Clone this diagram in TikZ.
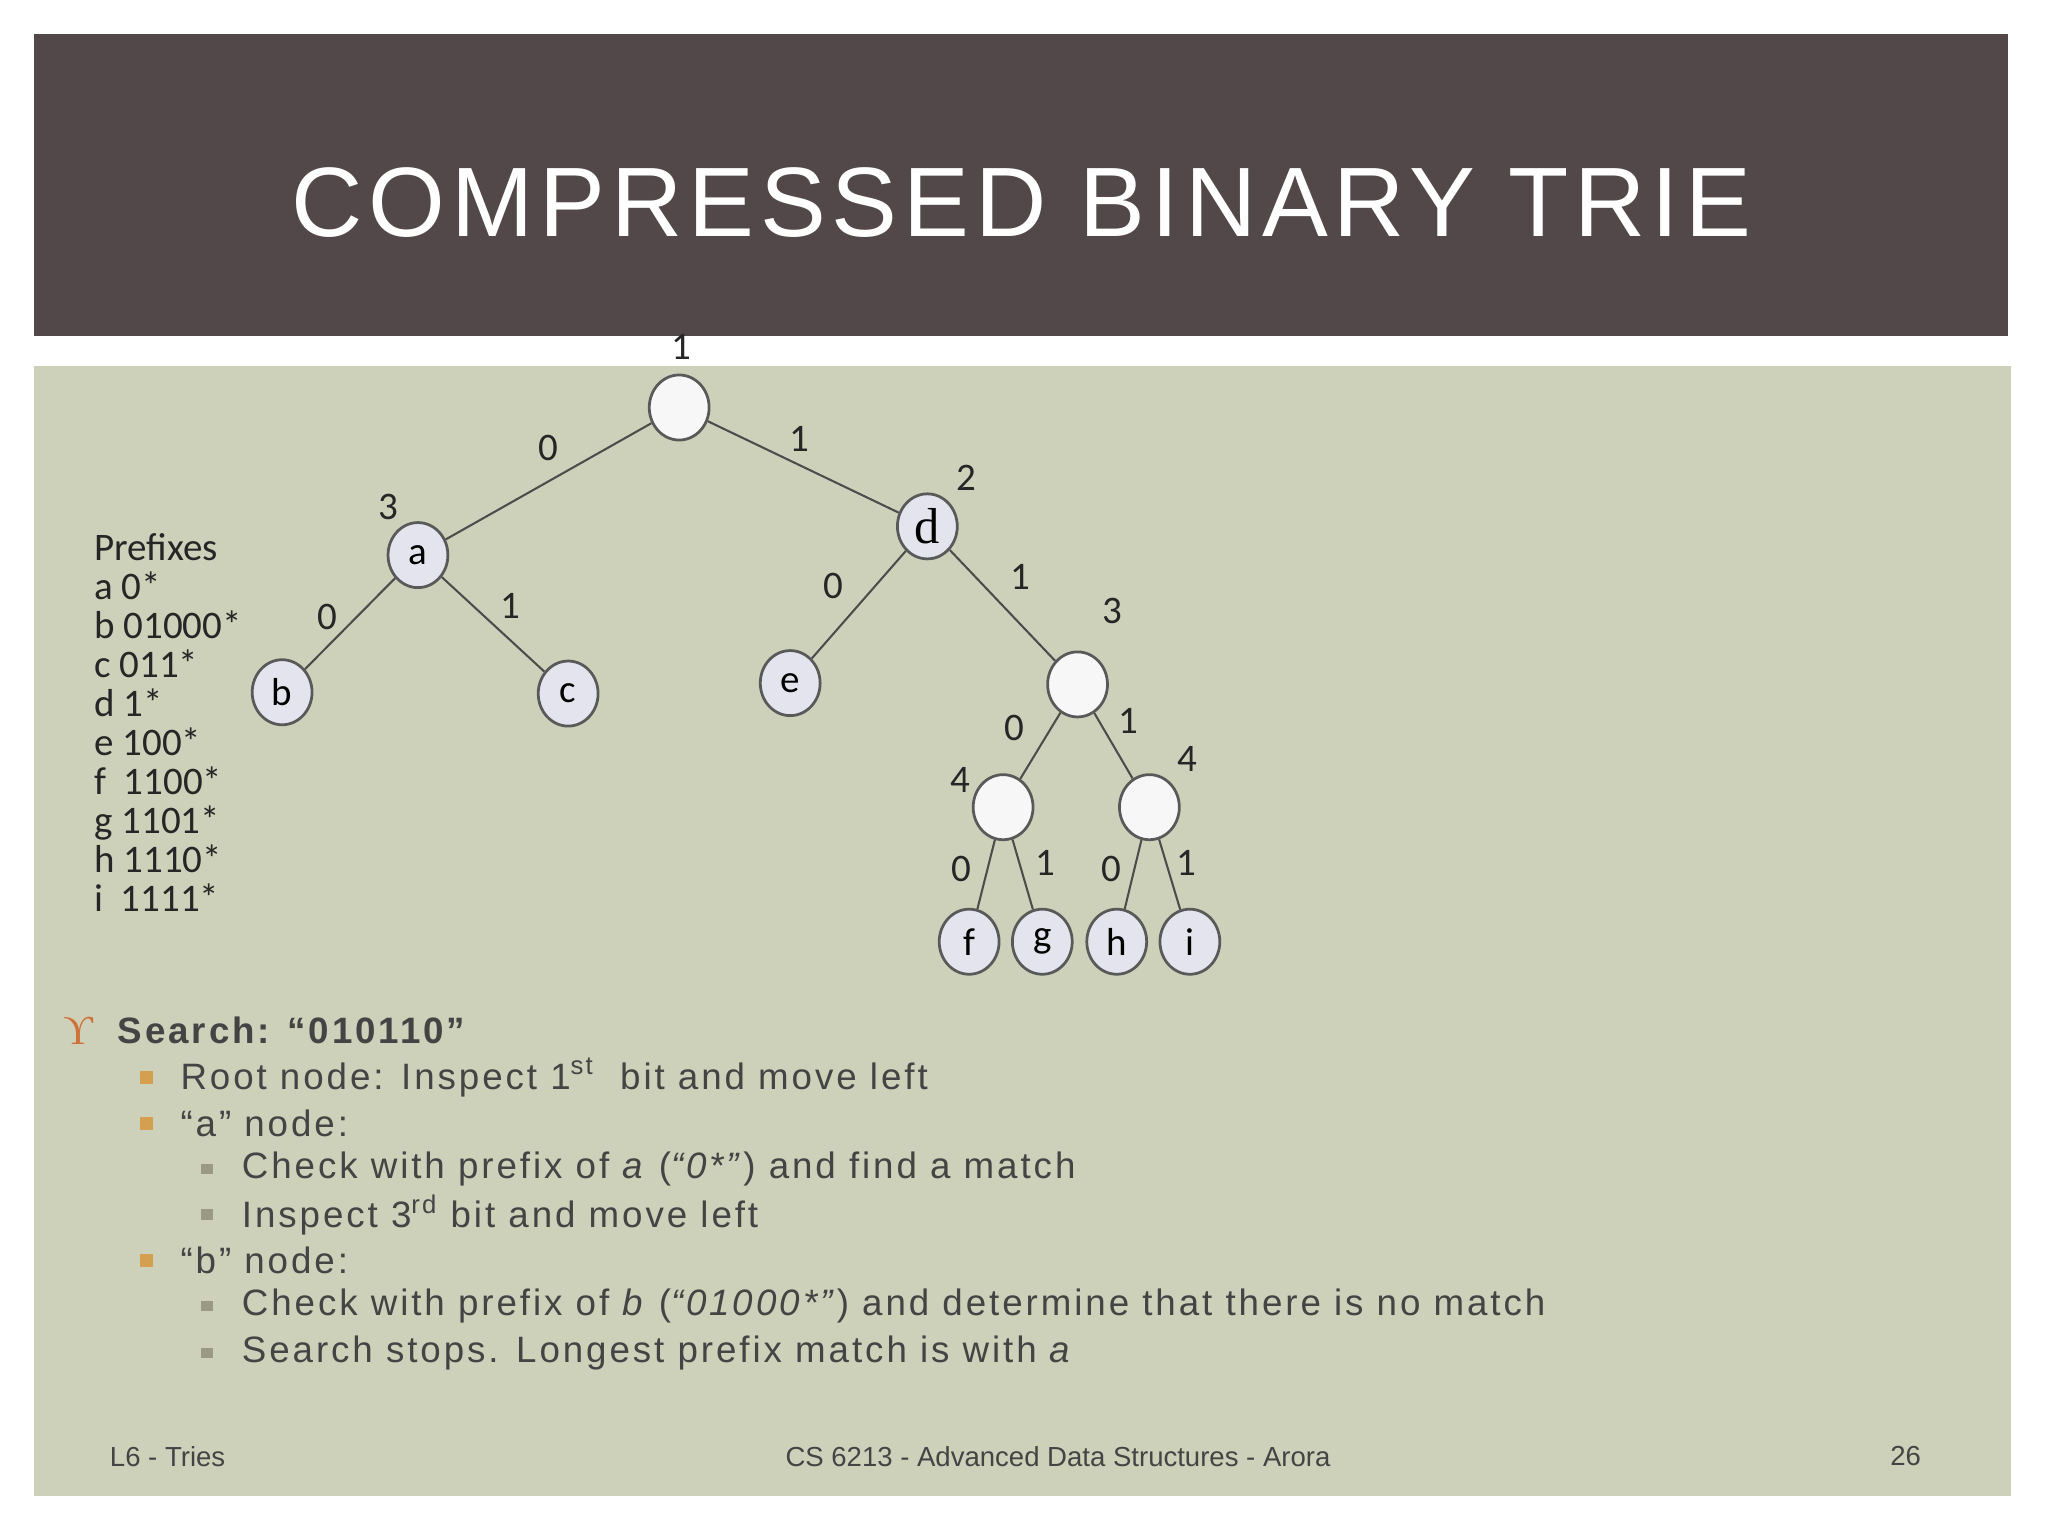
\documentclass[tikz,border=0pt]{standalone}
\usetikzlibrary{shapes.geometric}
\usepackage{fontspec}
\setmainfont{Liberation Sans}
\newfontfamily\titlefont[LetterSpace=6]{Liberation Sans}
\newfontfamily\bodyfont[LetterSpace=8]{Liberation Sans}
\newfontfamily\calfont{Carlito}
\newfontfamily\serfont{Liberation Serif}
\definecolor{hdr}{HTML}{524849}
\definecolor{bodybg}{HTML}{CED1B9}
\definecolor{txt}{HTML}{444444}
\definecolor{leaf}{HTML}{E4E4EE}
\definecolor{inner}{HTML}{F7F7F7}
\definecolor{orng}{HTML}{D0703A}
\definecolor{gold}{HTML}{D4A050}
\definecolor{grsq}{HTML}{9A9A82}
\newlength{\pxu}\setlength{\pxu}{0.567pt}
\tikzset{
 leafn/.style={ellipse,draw=black!65,line width=1.2pt,fill=leaf,minimum width=46\pxu,minimum height=50\pxu,inner sep=0pt,font=\calfont\fontsize{17}{20}\selectfont},
 innern/.style={leafn,fill=inner},
 edge/.style={draw=black!70,line width=0.9pt},
 lbl/.style={font=\calfont\fontsize{17}{20}\selectfont,text=black!85},
 btxt/.style={anchor=west,text=txt,font=\bodyfont\fontsize{16}{19}\selectfont},
 foot/.style={text=txt,font=\fontsize{12}{14}\selectfont}
}
\begin{document}
\begin{tikzpicture}[x=0.02cm,y=-0.02cm]
\useasboundingbox (0,0) rectangle (1568,1176);
\fill[white] (0,0) rectangle (1568,1176);
\fill[hdr] (26,26) rectangle (1537,257);
\fill[bodybg] (26,280) rectangle (1540,1145);
\node[text=white,font=\titlefont\fontsize{43}{50}\selectfont] (title) at (782,155) {COMPRESSED BINARY TRIE};
% tree
\node[innern] (r) at (520,312) {};
\node[leafn] (a) at (320,425) {a};
\node[leafn] (d) at (710,403) {\serfont\fontsize{22}{24}\selectfont d};
\node[leafn] (b) at (216,530) {b};
\node[leafn] (c) at (435,531) {c};
\node[leafn] (e) at (605,523) {e};
\node[innern] (m) at (825,524) {};
\node[innern] (l4) at (768,618) {};
\node[innern] (r4) at (880,618) {};
\node[leafn] (f) at (742,721) {f};
\node[leafn] (g) at (798,721) {g};
\node[leafn] (h) at (855,721) {h};
\node[leafn] (i) at (911,721) {i};
\draw[edge] (r)--(a); \draw[edge] (r)--(d);
\draw[edge] (a)--(b); \draw[edge] (a)--(c);
\draw[edge] (d)--(e); \draw[edge] (d)--(m);
\draw[edge] (m)--(l4); \draw[edge] (m)--(r4);
\draw[edge] (l4)--(f); \draw[edge] (l4)--(g);
\draw[edge] (r4)--(h); \draw[edge] (r4)--(i);
\foreach \t/\x/\y [count=\k] in {1/522/266,0/420/343,1/612/336,3/297/388,2/740/366,0/251/472,1/391/464,0/638/449,1/781/442,3/852/468,0/777/557,1/864/552,4/735/597,4/909/581,0/736/665,1/800/661,0/851/665,1/908/661}
  \node[lbl] (l\k) at (\x,\y) {\t};
\node[anchor=north west,align=left,font=\calfont\fontsize{17}{17}\selectfont,text=black!85] (pref) at (66,402) {Prefixes\\a 0*\\b 01000*\\c 011*\\d 1*\\e 100*\\f \ 1100*\\g 1101*\\h 1110*\\i \ 1111*};
% bullets
\node[text=orng,font=\serfont\fontsize{18}{20}\selectfont] (s0) at (60,789) {ϒ};
\node[btxt,font=\bodyfont\bfseries\fontsize{16}{19}\selectfont] (t0) at (84,789) {Search: “010110”};
\foreach \y in {825,860,965} \fill[gold] (107,\y-5) rectangle (117,\y+5);
\foreach \y in {895,930,1000,1036} \fill[grsq] (154,\y-4) rectangle (163,\y+4);
\node[btxt] (t1) at (132,825) {Root node: Inspect 1\textsuperscript{st}\ \ bit and move left};
\node[btxt] (t2) at (132,860) {“a” node:};
\node[btxt] (t3) at (179,895) {Check with prefix of \emph{a} (\emph{“0*”}) and find a match};
\node[btxt] (t4) at (179,930) {Inspect 3\textsuperscript{rd} bit and move left};
\node[btxt] (t5) at (132,965) {“b” node:};
\node[btxt] (t6) at (179,1000) {Check with prefix of \emph{b} (\emph{“01000*”}) and determine that there is no match};
\node[btxt] (t7) at (179,1036) {Search stops. Longest prefix match is with \emph{a}};
% footer
\node[foot,anchor=west] (f1) at (78,1115) {L6 - Tries};
\node[foot] (f2) at (810,1115) {CS 6213 - Advanced Data Structures - Arora};
\node[foot,anchor=east] (f3) at (1477,1115) {26};
\end{tikzpicture}
\end{document}
